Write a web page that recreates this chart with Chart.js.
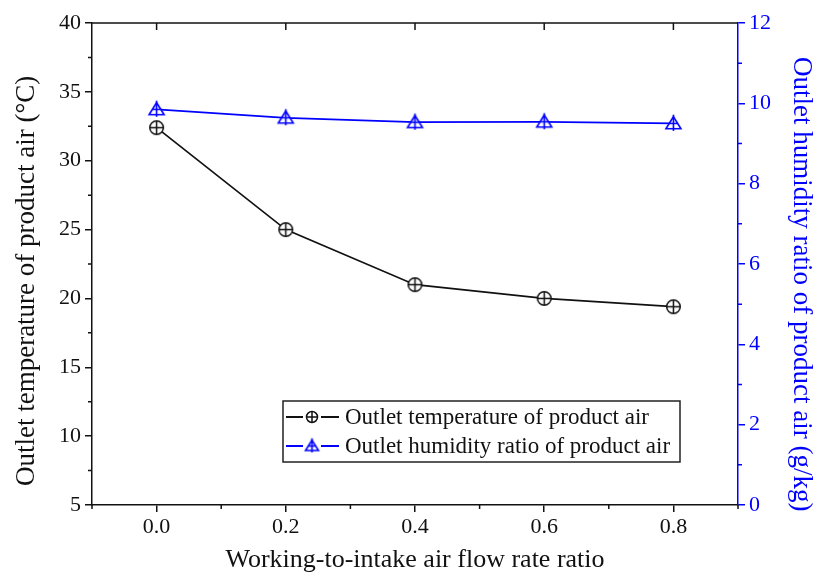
<!DOCTYPE html>
<html>
<head>
<meta charset="utf-8">
<script src="https://cdn.jsdelivr.net/npm/chart.js@4/dist/chart.umd.min.js"></script>
<style>
html,body{margin:0;padding:0;background:#fff;}
canvas{display:block;}
</style>
</head>
<body>
<canvas id="c" width="819" height="578"></canvas>
<script>
// ---- data ----
const flowRatio = [0.0, 0.2, 0.4, 0.6, 0.8];
const outletTemperature = [32.4, 25.0, 21.0, 20.0, 19.4];
const outletHumidity = [9.85, 9.64, 9.53, 9.54, 9.50];
const xTickValues = [0.0, 0.2, 0.4, 0.6, 0.8];
const xMinorValues = [-0.1, 0.1, 0.3, 0.5, 0.7, 0.9];
const yTickValues = [5, 10, 15, 20, 25, 30, 35, 40];
const yMinorValues = [7.5, 12.5, 17.5, 22.5, 27.5, 32.5, 37.5];
const y1TickValues = [0, 2, 4, 6, 8, 10, 12];
const y1MinorValues = [1, 3, 5, 7, 9, 11];
const seriesNames = ['Outlet temperature of product air', 'Outlet humidity ratio of product air'];
const xTitle = 'Working-to-intake air flow rate ratio';
const yTitle = 'Outlet temperature of product air (\u00B0C)';
const y1Title = 'Outlet humidity ratio of product air (g/kg)';

const FONT = "'Liberation Serif', 'Times New Roman', serif";
const BLACK = '#111111';
const BLUE = '#0000ff';

function circlePlus(color, r) {
  const s = Math.ceil(2 * r + 5);
  const c = document.createElement('canvas');
  c.width = s; c.height = s;
  const m = s / 2;
  const g = c.getContext('2d');
  g.strokeStyle = color; g.lineWidth = 1.5; g.fillStyle = '#fff';
  g.beginPath(); g.arc(m, m, r, 0, Math.PI * 2); g.fill(); g.stroke();
  g.beginPath(); g.moveTo(m - r, m); g.lineTo(m + r, m); g.moveTo(m, m - r); g.lineTo(m, m + r); g.stroke();
  return c;
}
function trianglePlus(color, h) {
  const s = Math.ceil(h + 6);
  const c = document.createElement('canvas');
  c.width = s; c.height = s;
  const m = s / 2;
  const g = c.getContext('2d');
  g.strokeStyle = color; g.lineWidth = 1.6; g.fillStyle = '#fff';
  const top = m - h * 0.45, base = m + h * 0.35, half = h * 0.5;
  g.beginPath(); g.moveTo(m, top); g.lineTo(m - half, base); g.lineTo(m + half, base); g.closePath(); g.fill(); g.stroke();
  g.beginPath(); g.moveTo(m, top - 2); g.lineTo(m, m + h * 0.5); g.moveTo(m - half * 0.6, m); g.lineTo(m + half * 0.6, m); g.stroke();
  return c;
}
const tempMarker = circlePlus(BLACK, 6.8);
const humMarker = trianglePlus(BLUE, 15);
const tempLegendMarker = circlePlus(BLACK, 5.5);
const humLegendMarker = trianglePlus(BLUE, 13);

const extrasPlugin = {
  id: 'extras',
  afterDraw(chart) {
    const ctx = chart.ctx;
    const a = chart.chartArea;
    const sx = chart.scales.x, sy = chart.scales.y, sy1 = chart.scales.y1;
    ctx.save();
    ctx.lineWidth = 1.5;
    // top frame line with inward ticks
    ctx.strokeStyle = BLACK;
    ctx.beginPath(); ctx.moveTo(a.left, a.top); ctx.lineTo(a.right, a.top); ctx.stroke();
    ctx.beginPath();
    xTickValues.forEach(v => { const p = sx.getPixelForValue(v); ctx.moveTo(p, a.top); ctx.lineTo(p, a.top + 7); });
    ctx.stroke();
    // minor ticks
    ctx.beginPath();
    xMinorValues.forEach(v => { const p = sx.getPixelForValue(v); ctx.moveTo(p, a.bottom); ctx.lineTo(p, a.bottom + 4); });
    yMinorValues.forEach(v => { const p = sy.getPixelForValue(v); ctx.moveTo(a.left, p); ctx.lineTo(a.left - 4, p); });
    ctx.stroke();
    ctx.strokeStyle = BLUE;
    ctx.beginPath();
    y1MinorValues.forEach(v => { const p = sy1.getPixelForValue(v); ctx.moveTo(a.right, p); ctx.lineTo(a.right + 4, p); });
    ctx.stroke();
    // legend box
    const bx = a.left + 191, by = a.top + 378, bw = 397, bh = 61;
    ctx.fillStyle = '#fff';
    ctx.fillRect(bx, by, bw, bh);
    ctx.strokeStyle = '#222';
    ctx.lineWidth = 1.5;
    ctx.strokeRect(bx, by, bw, bh);
    const rows = [
      {color: BLACK, img: tempLegendMarker, text: seriesNames[0]},
      {color: BLUE, img: humLegendMarker, text: seriesNames[1]}
    ];
    ctx.font = '23px ' + FONT;
    ctx.textBaseline = 'middle';
    ctx.textAlign = 'left';
    rows.forEach((r, i) => {
      const cy = by + 16 + i * 29;
      ctx.strokeStyle = r.color; ctx.lineWidth = 1.8;
      ctx.beginPath(); ctx.moveTo(bx + 3, cy); ctx.lineTo(bx + 20, cy); ctx.moveTo(bx + 38, cy); ctx.lineTo(bx + 56, cy); ctx.stroke();
      ctx.drawImage(r.img, bx + 29 - r.img.width / 2, cy - r.img.height / 2);
      ctx.fillStyle = '#111';
      ctx.fillText(r.text, bx + 62, cy + 1);
    });
    ctx.restore();
  }
};

new Chart(document.getElementById('c'), {
  type: 'line',
  data: {
    datasets: [
      {
        label: seriesNames[0],
        data: flowRatio.map((x, i) => ({x: x, y: outletTemperature[i]})),
        yAxisID: 'y',
        borderColor: BLACK,
        borderWidth: 1.7,
        pointStyle: tempMarker,
        tension: 0,
        fill: false
      },
      {
        label: seriesNames[1],
        data: flowRatio.map((x, i) => ({x: x, y: outletHumidity[i]})),
        yAxisID: 'y1',
        borderColor: BLUE,
        borderWidth: 1.7,
        pointStyle: humMarker,
        tension: 0,
        fill: false
      }
    ]
  },
  options: {
    responsive: false,
    animation: false,
    layout: {padding: {top: 23, left: 0, right: 0, bottom: 0}},
    plugins: {legend: {display: false}, tooltip: {enabled: false}},
    scales: {
      x: {
        type: 'linear', position: 'bottom', min: -0.1, max: 0.9,
        afterBuildTicks: s => { s.ticks = xTickValues.map(v => ({value: v})); },
        afterFit: s => { s.height = 73; },
        ticks: {callback: v => Number(v).toFixed(1), color: BLACK, font: {family: FONT, size: 22}, padding: 2, maxRotation: 0, autoSkip: false},
        grid: {drawOnChartArea: false, drawTicks: true, tickLength: 7, color: BLACK, lineWidth: 1.5},
        border: {display: true, color: BLACK, width: 1.5},
        title: {display: true, text: xTitle, color: BLACK, font: {family: FONT, size: 26}, padding: {top: 0, bottom: 2}}
      },
      y: {
        type: 'linear', position: 'left', min: 5, max: 40,
        afterBuildTicks: s => { s.ticks = yTickValues.map(v => ({value: v})); },
        afterFit: s => { s.width = 92; },
        ticks: {color: BLACK, font: {family: FONT, size: 22}, padding: 4},
        grid: {drawOnChartArea: false, drawTicks: true, tickLength: 7, color: BLACK, lineWidth: 1.5},
        border: {display: true, color: BLACK, width: 1.5},
        title: {display: true, text: yTitle + '     ', color: BLACK, font: {family: FONT, size: 27}, padding: {top: 11, bottom: 0}}
      },
      y1: {
        type: 'linear', position: 'right', min: 0, max: 12,
        afterBuildTicks: s => { s.ticks = y1TickValues.map(v => ({value: v})); },
        afterFit: s => { s.width = 81; },
        ticks: {color: BLUE, font: {family: FONT, size: 22}, padding: 4},
        grid: {drawOnChartArea: false, drawTicks: true, tickLength: 7, color: BLUE, lineWidth: 1.5},
        border: {display: true, color: BLUE, width: 1.5},
        title: {display: true, text: '      ' + y1Title, color: BLUE, font: {family: FONT, size: 27}, padding: {top: 2, bottom: 0}}
      }
    }
  },
  plugins: [extrasPlugin]
});
</script>
</body>
</html>
